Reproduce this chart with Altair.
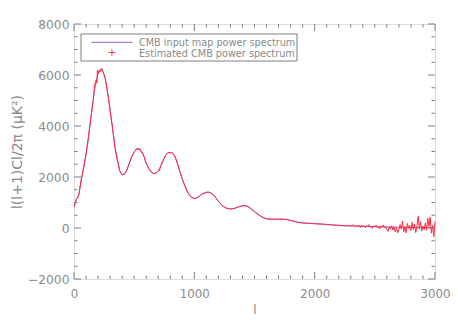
import altair as alt
import pandas as pd

# ---------------- data ----------------
in_l = [2, 20, 40, 60, 80, 100, 120, 140, 160, 180, 200, 220, 240, 260, 280, 300, 320, 340, 360, 380,
        400, 420, 440, 460, 480, 500, 520, 540, 560, 580, 600, 620, 640, 660, 680, 700, 720, 740, 760, 780,
        800, 820, 840, 860, 880, 900, 920, 940, 960, 980, 1000, 1020, 1040, 1060, 1080, 1100, 1120, 1140,
        1160, 1180, 1200, 1220, 1240, 1260, 1280, 1300, 1320, 1340, 1360, 1380, 1400, 1420, 1440, 1460,
        1480, 1500, 1520, 1540, 1560, 1580, 1600, 1620, 1660, 1700, 1740, 1770, 1800, 1840, 1880, 1920,
        1960, 2000, 2050, 2100, 2150, 2200, 2250, 2300, 2350, 2400, 2500, 2600, 2700, 2800, 2900, 3000]
in_v = [850, 1150, 1300, 1900, 2350, 2900, 3550, 4300, 5050, 5650, 6050, 6230, 6150, 5850, 5300, 4650,
        3900, 3200, 2650, 2250, 2090, 2110, 2280, 2540, 2800, 2990, 3090, 3110, 3020, 2820, 2540, 2330,
        2200, 2140, 2150, 2230, 2420, 2650, 2840, 2940, 2960, 2930, 2800, 2520, 2220, 1920, 1660, 1450,
        1290, 1190, 1160, 1180, 1240, 1310, 1370, 1400, 1400, 1370, 1300, 1180, 1050, 940, 850, 790, 760,
        750, 755, 780, 815, 850, 870, 875, 850, 800, 720, 640, 570, 500, 440, 395, 365, 350, 345, 345, 345,
        335, 300, 250, 210, 190, 180, 170, 155, 140, 120, 105, 95, 85, 75, 65, 50, 40, 30, 20, 15, 10]

est_l = [2, 10, 20, 30, 40, 60, 80, 100, 120, 140, 160, 170, 180, 185, 190, 195, 200, 205, 210, 220,
         230, 240, 250, 260, 280, 300, 320, 340, 360, 380, 400, 420, 440, 460, 480, 500, 520, 540, 550,
         560, 570, 580, 600, 620, 640, 660, 680, 690, 700, 710, 720, 740, 760, 780, 800, 820, 840, 860,
         880, 900, 920, 940, 960, 980, 1000, 1020, 1040, 1060, 1080, 1100, 1120, 1140, 1160, 1180, 1200,
         1220, 1240, 1260, 1280, 1300, 1320, 1340, 1360, 1380, 1400, 1420, 1440, 1460, 1480, 1500, 1520,
         1540, 1560, 1580] + list(range(1600, 3001, 10))
est_v = [820, 1000, 1120, 1180, 1300, 1880, 2380, 2880, 3560, 4330, 5000, 5600, 5720, 5820, 5680, 6200,
         6150, 6050, 6180, 6120, 6260, 6150, 6020, 5870, 5300, 4600, 3950, 3150, 2700, 2250, 2080, 2120,
         2270, 2560, 2800, 2970, 3110, 3080, 3100, 2960, 2950, 2830, 2540, 2350, 2220, 2120, 2160, 2180,
         2260, 2250, 2420, 2640, 2830, 2960, 2950, 2940, 2790, 2530, 2210, 1920, 1670, 1440, 1290, 1200,
         1150, 1180, 1230, 1320, 1360, 1400, 1410, 1360, 1300, 1170, 1060, 930, 850, 790, 760, 745, 760,
         775, 820, 845, 875, 870, 855, 795, 725, 640, 565, 505, 440, 390,
         # 1600 .. 3000 step 10
         360, 352, 348, 350, 345, 342, 348, 346, 344, 348, 343, 346, 350, 342, 340, 345, 338, 330, 318, 305,
         292, 282, 268, 258, 246, 240, 222, 215, 212, 200, 205, 188, 195, 180, 190, 185, 170, 188, 176, 165,
         178, 160, 172, 150, 165, 148, 170, 138, 152, 130, 145, 125, 150, 118, 135, 105, 128, 112, 95, 130,
         100, 85, 120, 70, 95, 60, 110, 80, 120, 65, 100, 55, 130, 75, 40, 110, 60, 95, 20, 120,
         45, 85, 10, 95, 60, 130, 30, 70, -10, 90, 40, 110, 20, 60, -40, 80, 30, 120, 0, 60,
         -60, -130, 50, -40, 90, -80, 40, -150, 20, -190, -60, 130, -40, 270, -150, 60, -190, 180, -20, 110,
         -100, 220, -60, 160, -180, 90, 460, -50, 250, -120, 80, -60, 200, -90, 380, 60, 430, -200, 110, -340,
         250]

x_major = [0, 1000, 2000, 3000]
x_minor = [v for v in range(0, 3001, 100) if v % 1000 != 0]
y_major = [-2000, 0, 2000, 4000, 6000, 8000]
y_minor = [v for v in range(-2000, 8001, 500) if v % 2000 != 0]

legend_labels = ["CMB input map power spectrum", "Estimated CMB power spectrum"]

# ---------------- styling ----------------
W, H = 361, 255
GRAY = "#7f7f7f"
TXT = "#8a8a8a"
PURPLE = "#9a5fd6"
RED = "#ff2a3c"
FONT = "DejaVu Sans"
MAJ, MIN = 7, 3.5

xs = alt.Scale(domain=[0, 3000], nice=False, zero=False)
ys = alt.Scale(domain=[-2000, 8000], nice=False, zero=False)
x_axis = alt.Axis(values=x_major, format="d", ticks=False, domain=False, grid=False, labelPadding=9,
                  labelColor=TXT, labelFont=FONT, labelFontSize=11.8, labelFlush=False, title="l",
                  titleColor=TXT, titleFont=FONT, titleFontSize=12, titleFontWeight="normal",
                  titleX=W / 2, titleY=30, titleBaseline="middle", titleAlign="center")
y_axis = alt.Axis(values=y_major, format="d", ticks=False, domain=False, grid=False, labelPadding=5,
                  labelColor=TXT, labelFont=FONT, labelFontSize=12.3, labelFlush=False,
                  title="l(l+1)Cl/2π (μK²)", titleColor=TXT, titleFont=FONT, titleFontSize=14,
                  titleFontWeight="normal", titleX=-57, titleY=H / 2, titleAngle=-90,
                  titleAlign="center", titleBaseline="middle")

X = lambda f: alt.X(f, type="quantitative", scale=xs, axis=x_axis)
Y = lambda f: alt.Y(f, type="quantitative", scale=ys, axis=y_axis)

df_in = pd.DataFrame({"l": in_l, "v": in_v})
df_est = pd.DataFrame({"l": est_l, "v": est_v})

line_in = alt.Chart(df_in).mark_line(color=PURPLE, strokeWidth=1).encode(x=X("l"), y=Y("v"))
line_est = alt.Chart(df_est).mark_line(color=RED, strokeWidth=1).encode(x=X("l"), y=Y("v"))

def xticks(vals, ln):
    d = pd.DataFrame({"l": vals})
    b = alt.Chart(d).mark_rule(color=GRAY, strokeWidth=1).encode(x=X("l"), y=alt.value(H), y2=alt.value(H - ln))
    t = alt.Chart(d).mark_rule(color=GRAY, strokeWidth=1).encode(x=X("l"), y=alt.value(0), y2=alt.value(ln))
    return [b, t]

def yticks(vals, ln):
    d = pd.DataFrame({"v": vals})
    l = alt.Chart(d).mark_rule(color=GRAY, strokeWidth=1).encode(y=Y("v"), x=alt.value(0), x2=alt.value(ln))
    r = alt.Chart(d).mark_rule(color=GRAY, strokeWidth=1).encode(y=Y("v"), x=alt.value(W), x2=alt.value(W - ln))
    return [l, r]

ticks = xticks(x_major, MAJ) + xticks(x_minor, MIN) + yticks(y_major, MAJ) + yticks(y_minor, MIN)

# legend (manual, IDL style)
leg_df = pd.DataFrame({"label": legend_labels, "row": [0, 1]})
one = pd.DataFrame({"a": [0]})
leg_box = alt.Chart(one).mark_rect(
    fill="white", stroke=GRAY, strokeWidth=1).encode(
    x=alt.value(7), x2=alt.value(223), y=alt.value(10), y2=alt.value(37))
leg_line = alt.Chart(one).mark_rule(color=PURPLE, strokeWidth=1).encode(
    x=alt.value(17.5), x2=alt.value(58.5), y=alt.value(18.3))
leg_plus = alt.Chart(pd.DataFrame({"s": ["+"]})).mark_text(
    color=RED, font=FONT, fontSize=10, baseline="middle", align="center").encode(
    text="s:N", x=alt.value(38), y=alt.value(29.3))
leg_txt0 = alt.Chart(leg_df.iloc[[0]]).mark_text(
    align="left", baseline="middle", font=FONT, fontSize=9.7, color=TXT).encode(
    text="label:N", x=alt.value(65), y=alt.value(18.5))
leg_txt1 = alt.Chart(leg_df.iloc[[1]]).mark_text(
    align="left", baseline="middle", font=FONT, fontSize=9.7, color=TXT).encode(
    text="label:N", x=alt.value(65), y=alt.value(29.5))

chart = alt.layer(
    line_in, line_est, *ticks, leg_box, leg_line, leg_plus, leg_txt0, leg_txt1
).properties(
    width=W, height=H,
    autosize=alt.AutoSizeParams(type="none"),
    padding={"left": 66, "top": 16, "right": 15, "bottom": 40},
).configure_view(stroke=GRAY, strokeWidth=1).configure(background="white")

chart.save("out.html", embed_options={"renderer": "svg", "actions": False})
